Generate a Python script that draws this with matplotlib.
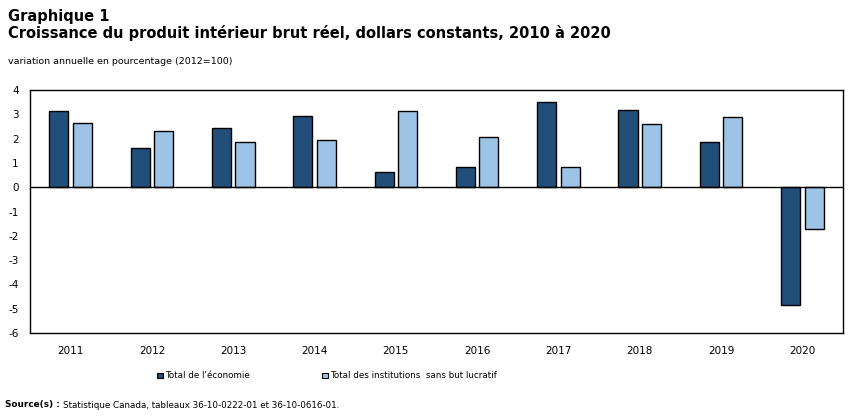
import matplotlib.pyplot as plt
import numpy as np
from matplotlib.patches import Patch

years = ["2011", "2012", "2013", "2014", "2015", "2016", "2017", "2018", "2019", "2020"]
economie = [3.13, 1.60, 2.43, 2.92, 0.62, 0.82, 3.50, 3.16, 1.88, -4.83]
institutions = [2.63, 2.30, 1.85, 1.93, 3.13, 2.06, 0.82, 2.62, 2.87, -1.70]
yticks = [4, 3, 2, 1, 0, -1, -2, -3, -4, -5, -6]

dark = "#224f7a"
light = "#9dc3e6"

plt.rcParams["font.family"] = "DejaVu Sans"
plt.rcParams["axes.unicode_minus"] = False
fig = plt.figure(figsize=(8.51, 4.17), dpi=100)
ax = fig.add_axes([30 / 851, 1 - 333 / 417, 813 / 851, 243 / 417])

x = np.arange(len(years))
w = 0.235
ax.bar(x - 0.145, economie, w, color=dark, edgecolor="black", linewidth=1)
ax.bar(x + 0.145, institutions, w, color=light, edgecolor="black", linewidth=1)
ax.axhline(0, color="black", linewidth=1)

ax.set_xlim(-0.5, 9.5)
ax.set_ylim(-6, 4)
ax.set_yticks(yticks)
ax.set_xticks(x)
ax.set_xticklabels(years)
ax.tick_params(length=0, labelsize=7.5)
ax.tick_params(axis="x", pad=9)
ax.tick_params(axis="y", pad=8)
for s in ax.spines.values():
    s.set_linewidth(1)

fig.text(8 / 851, 1 - 16 / 417, "Graphique 1", fontsize=10.5, fontweight="bold", va="center")
fig.text(8 / 851, 1 - 33 / 417, "Croissance du produit intérieur brut réel, dollars constants, 2010 à 2020",
         fontsize=10.5, fontweight="bold", va="center")
fig.text(8 / 851, 1 - 62 / 417, "variation annuelle en pourcentage (2012=100)", fontsize=6.8, va="center")

handles = [Patch(facecolor=dark, edgecolor="black", linewidth=0.8),
           Patch(facecolor=light, edgecolor="black", linewidth=0.8)]
fig.legend(handles, ["Total de l'économie", "Total des institutions  sans but lucratif"],
           loc="center", bbox_to_anchor=(327 / 851, 1 - 376 / 417), ncol=2, frameon=False,
           fontsize=6.3, handlelength=0.65, handleheight=0.65, handletextpad=0.25, columnspacing=8.3)

fig.text(5 / 851, 1 - 405 / 417, "Source(s) :", fontsize=6.4, fontweight="bold", va="center")
fig.text(63 / 851, 1 - 405 / 417, "Statistique Canada, tableaux 36-10-0222-01 et 36-10-0616-01.",
         fontsize=6.3, va="center")

fig.savefig("out.png", dpi=100)
